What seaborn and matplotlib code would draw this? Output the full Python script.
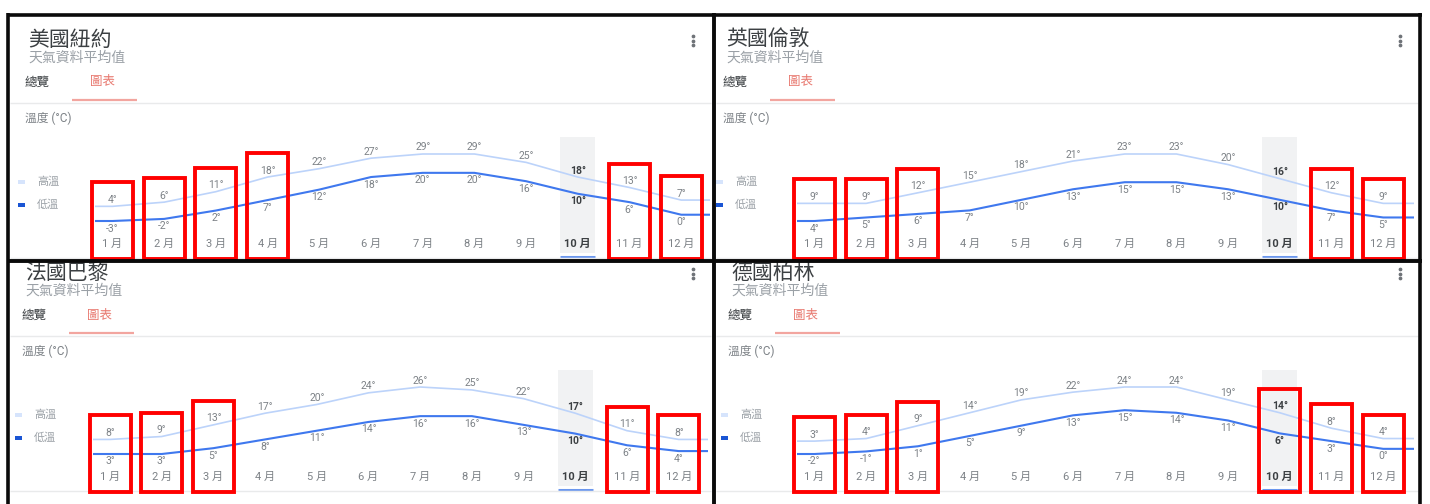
import numpy as np
import pandas as pd
import matplotlib
matplotlib.use("Agg")
import matplotlib.pyplot as plt
import matplotlib.transforms as mtransforms
from matplotlib.patches import Rectangle
from matplotlib.lines import Line2D
import seaborn as sns

# ---- data -------------------------------------------------------------
months = list(range(1, 13))
month_labels = [f"{m} 月" for m in months]

city_names = ["美國紐約", "英國倫敦", "法國巴黎", "德國柏林"]
subtitle = "天氣資料平均值"
tab_overview = "總覽"
tab_chart = "圖表"
axis_title = "溫度 (°C)"
legend_high = "高溫"
legend_low = "低溫"

ny_high = [4, 6, 11, 18, 22, 27, 29, 29, 25, 18, 13, 7]
ny_low = [-3, -2, 2, 7, 12, 18, 20, 20, 16, 10, 6, 0]
london_high = [9, 9, 12, 15, 18, 21, 23, 23, 20, 16, 12, 9]
london_low = [4, 5, 6, 7, 10, 13, 15, 15, 13, 10, 7, 5]
paris_high = [8, 9, 13, 17, 20, 24, 26, 25, 22, 17, 11, 8]
paris_low = [3, 3, 5, 8, 11, 14, 16, 16, 13, 10, 6, 4]
berlin_high = [3, 4, 9, 14, 19, 22, 24, 24, 19, 14, 8, 4]
berlin_low = [-2, -1, 1, 5, 9, 13, 15, 14, 11, 6, 3, 0]

current_month = 10
ny_boxed = [1, 2, 3, 4, 11, 12]
london_boxed = [1, 2, 3, 11, 12]
paris_boxed = [1, 2, 3, 11, 12]
berlin_boxed = [1, 2, 3, 10, 11, 12]

# ---- styling ----------------------------------------------------------
sns.set_theme(style="white")
plt.rcParams["font.family"] = ["Roboto", "Noto Sans CJK TC", "DejaVu Sans"]

C_HIGH = "#bcd3fa"
C_LOW = "#3f78ee"
C_LEG_HIGH = "#d6e4fc"
C_LEG_LOW = "#1a55d4"
C_TXT = "#3c4043"
C_GREY = "#7d8287"
C_LIGHT = "#9aa0a6"
C_RED_TAB = "#e8786f"
C_SHADE = "#f1f2f3"
C_RULE = "#e9eaeb"
C_BOX = "#ff0000"

W, H = 1430, 504
fig = plt.figure(figsize=(W / 100, H / 100), dpi=100)
fig.patch.set_facecolor("white")


def fx(x):
    return x / W


def fy(y):
    return 1 - y / H


def hline(x0, x1, y, color, lw, z=5):
    fig.add_artist(Line2D([fx(x0), fx(x1)], [fy(y), fy(y)], color=color,
                          lw=lw, transform=fig.transFigure, zorder=z,
                          solid_capstyle="butt"))


def vline(x, y0, y1, color, lw, z=5):
    fig.add_artist(Line2D([fx(x), fx(x)], [fy(y0), fy(y1)], color=color,
                          lw=lw, transform=fig.transFigure, zorder=z,
                          solid_capstyle="butt"))


panels = [
    dict(name=city_names[0], high=ny_high, low=ny_low, boxed=ny_boxed,
         dx=0, dy=0, cx0=95, cx1=710, m1=112.5, left=10, right=711),
    dict(name=city_names[1], high=london_high, low=london_low, boxed=london_boxed,
         dx=698, dy=0, cx0=797, cx1=1414, m1=814.5, left=716, right=1418),
    dict(name=city_names[2], high=paris_high, low=paris_low, boxed=paris_boxed,
         dx=-3, dy=233, cx0=93, cx1=708, m1=110, left=10, right=711),
    dict(name=city_names[3], high=berlin_high, low=berlin_low, boxed=berlin_boxed,
         dx=703, dy=233, cx0=797, cx1=1414, m1=814.5, left=716, right=1418),
]

SPACING = 51.7          # pixels per month
AX_TOP, AX_BOT = 130, 256
Y_MAX_PX, Y_MIN_PX = 154, 221

boxes = []
for p in panels:
    dx, dy = p["dx"], p["dy"]

    # header texts
    fig.text(fx(28 + dx), fy(40 + dy), p["name"], fontsize=15, color=C_TXT,
             ha="left", va="center")
    fig.text(fx(28 + dx), fy(58 + dy), subtitle, fontsize=10, color=C_LIGHT,
             ha="left", va="center")
    fig.text(fx(25 + dx), fy(82 + dy), tab_overview, fontsize=9, color=C_TXT,
             ha="left", va="center")
    fig.text(fx(90 + dx), fy(82 + dy), tab_chart, fontsize=9, color=C_RED_TAB,
             ha="left", va="center")
    hline(72 + dx, 137 + dx, 100 + dy, "#f2a59f", 1.6)
    hline(p["left"], p["right"], 102.5 + dy, C_RULE, 1.0)
    fig.text(fx(25 + dx), fy(118 + dy), axis_title, fontsize=8.5, color=C_GREY,
             ha="left", va="center")

    # legend
    for yy, col, lab in [(182, C_LEG_HIGH, legend_high), (205, C_LEG_LOW, legend_low)]:
        fig.add_artist(Rectangle((fx(18 + dx), fy(yy + 2 + dy)), 7 / W, 4.5 / H,
                                 transform=fig.transFigure, color=col, lw=0))
        fig.text(fx(37 + dx), fy(yy + dy), lab, fontsize=8, color=C_LIGHT,
                 ha="left", va="center")

    # menu dots
    mx = p["right"] - 18
    fig.add_artist(Line2D([fx(mx)] * 3, [fy(36 + dy), fy(40.5 + dy), fy(45 + dy)],
                          ls="none", marker="o", ms=1.7, color="#6f7378",
                          transform=fig.transFigure))

    # bottom rule under the month row
    hline(p["left"], p["right"], 257.5 + dy, C_RULE, 1.0)

    # chart axes
    ax = fig.add_axes([fx(p["cx0"]), fy(AX_BOT + dy), (p["cx1"] - p["cx0"]) / W,
                       (AX_BOT - AX_TOP) / H])
    ax.patch.set_alpha(0)
    lmin, hmax = min(p["low"]), max(p["high"])
    s = (hmax - lmin) / (Y_MIN_PX - Y_MAX_PX)
    ax.set_ylim(lmin - (AX_BOT - Y_MIN_PX) * s, hmax + (Y_MAX_PX - AX_TOP) * s)
    x_lo = 1 - (p["m1"] - p["cx0"]) / SPACING
    x_hi = 1 + (p["cx1"] - p["m1"]) / SPACING
    ax.set_xlim(x_lo, x_hi)

    def af(ypx):
        return (AX_BOT - ypx) / (AX_BOT - AX_TOP)

    blend = mtransforms.blended_transform_factory(ax.transData, ax.transAxes)

    # current month column and marker
    ax.axvspan(current_month - 0.34, current_month + 0.34, ymin=af(253), ymax=af(137),
               color=C_SHADE, lw=0, zorder=0)
    ax.plot([current_month - 0.34, current_month + 0.34], [af(256.5)] * 2,
            transform=blend, color="#6b97ee", lw=2.2, clip_on=False,
            solid_capstyle="butt")

    # temperature lines, held flat past the first and last month
    df = pd.DataFrame({"month": months, "high": p["high"], "low": p["low"]})
    xs = [x_lo] + months + [x_hi]
    hi_ext = [df["high"].iloc[0]] + df["high"].tolist() + [df["high"].iloc[-1]]
    lo_ext = [df["low"].iloc[0]] + df["low"].tolist() + [df["low"].iloc[-1]]
    sns.lineplot(x=xs, y=hi_ext, ax=ax, color=C_HIGH, linewidth=1.2, sort=False)
    sns.lineplot(x=xs, y=lo_ext, ax=ax, color=C_LOW, linewidth=1.5, sort=False)

    for m, hv, lv in zip(df["month"], df["high"], df["low"]):
        bold = m == current_month
        col = C_TXT if bold else C_GREY
        wt = "bold" if bold else "normal"
        ax.annotate(f"{hv}°", (m, hv), xytext=(0, 6.5), textcoords="offset pixels",
                    ha="center", va="center", fontsize=7.5, color=col, fontweight=wt)
        ax.annotate(f"{lv}°", (m, lv), xytext=(0, -7.5), textcoords="offset pixels",
                    ha="center", va="center", fontsize=7.5, color=col, fontweight=wt)
    for m, lab in zip(months, month_labels):
        bold = m == current_month
        ax.text(m, af(244), lab, transform=blend, ha="center", va="center",
                fontsize=8, color=C_TXT if bold else C_GREY,
                fontweight="bold" if bold else "normal")

    ax.set_xticks([])
    ax.set_yticks([])
    ax.set_xlabel("")
    ax.set_ylabel("")
    sns.despine(ax=ax, left=True, bottom=True)

    for m in p["boxed"]:
        boxes.append((ax, m, p["high"][m - 1], dy))

# highlight frames around selected months
inv = fig.transFigure.inverted()
for ax, m, hv, dy in boxes:
    x_d, y_d = ax.transData.transform((m, hv))
    top_d = y_d + 24
    bot_d = H - (258.5 + dy)
    (x0, y0) = inv.transform((x_d - 20.5, bot_d))
    (x1, y1) = inv.transform((x_d + 20.5, top_d))
    fig.add_artist(Rectangle((x0, y0), x1 - x0, y1 - y0, transform=fig.transFigure,
                             fill=False, ec=C_BOX, lw=2.8, zorder=20))

# card frames
BLK = "#0a0a0a"
hline(6.5, 1422, 14.5, BLK, 2.6, z=30)
hline(6.5, 1422, 260.5, BLK, 2.8, z=30)
vline(8, 13, 504, BLK, 2.6, z=30)
vline(713.5, 13, 504, BLK, 2.8, z=30)
vline(1420, 13, 504, BLK, 2.6, z=30)

fig.savefig("out.png", dpi=100, facecolor="white")
